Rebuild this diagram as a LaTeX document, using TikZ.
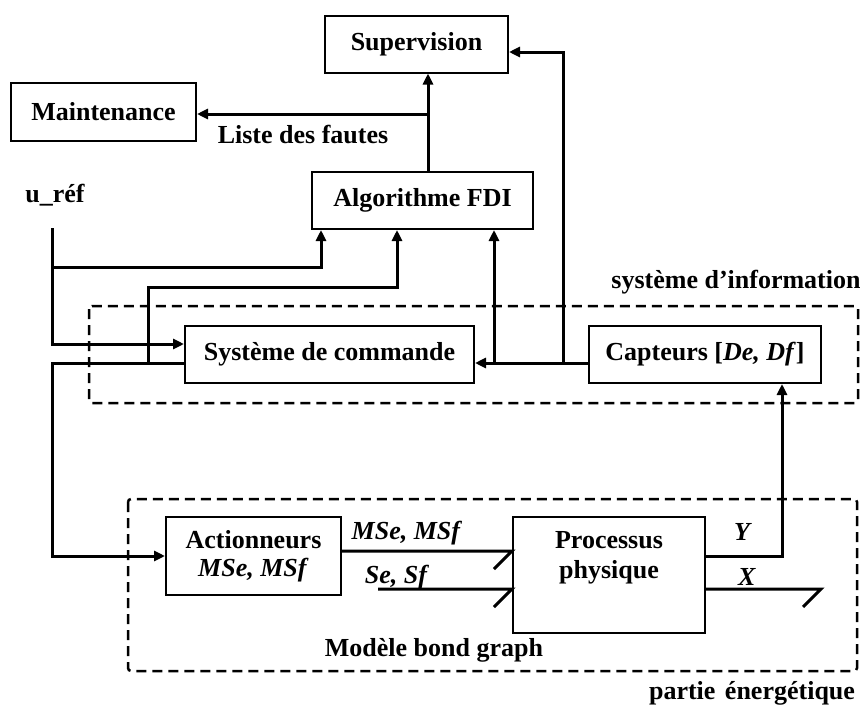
\documentclass[tikz,border=0pt]{standalone}
\usepackage{fontspec}
\setmainfont{Liberation Serif}
\usetikzlibrary{arrows.meta,calc}
\begin{document}
\begin{tikzpicture}[x=1pt,y=-1pt,
  every node/.style={font=\fontsize{26}{30}\selectfont\bfseries},
  blk/.style={draw,line width=2pt,inner sep=0pt,align=center},
  conn/.style={line width=3pt,line join=miter},
  arr/.style={conn,-{Triangle[length=11pt,width=10pt]}},
  dashbox/.style={line width=2.5pt,dash pattern=on 10pt off 6pt,rounded corners=3pt},
  lbl/.style={inner sep=0pt}]
\useasboundingbox (0,0) rectangle (860,707);
% blocks
\node[blk,minimum width=183pt,minimum height=57pt] (sup) at (416.5,44) {Supervision};
\node[blk,minimum width=185pt,minimum height=58pt] (maint) at (103.5,112) {Maintenance};
\node[blk,minimum width=221pt,minimum height=57pt] (algo) at (422.5,200.5) {Algorithme FDI};
\node[blk,minimum width=289pt,minimum height=57pt] (cmd) at (329.5,354.5) {Système de commande};
\node[blk,minimum width=232pt,minimum height=57pt] (capt) at (705,354.5) {Capteurs [\textit{De, Df}]};
\node[blk,minimum width=175pt,minimum height=78pt] (act) at (253.5,556) {Actionneurs\\[-2pt]\textit{MSe, MSf}};
\node[blk,minimum width=192pt,minimum height=116pt] (proc) at (609,575) {};
\node[lbl,align=center] (proctxt) at (609,558) {Processus\\physique};
% dashed regions
\draw[dashbox] (89,306) rectangle (858,403);
\draw[dashbox] (128,499) rectangle (857,671);
% labels
\node[lbl] (liste) at (303,135) {Liste des fautes};
\node[lbl] (uref) at (55,195) {u\_réf};
\node[lbl] (sinfo) at (736,282) {système d’information};
\node[lbl] (penerg) at (752,693) {partie\ \hspace{3pt}énergétique};
\node[lbl] (mbg) at (434,650) {Modèle bond graph};
\node[lbl] (lmse) at (407,533) {\textit{MSe, MSf}};
\node[lbl] (lse) at (397,577) {\textit{Se, Sf}};
\node[lbl] (ly) at (743,532) {\textit{Y}};
\node[lbl] (lx) at (747,577) {\textit{X}};
% junction coordinates
\coordinate (j1) at (428,114);
\coordinate (j2) at (563,363);
\coordinate (j3) at (494,363);
\coordinate (u0) at (52,228);
\coordinate (u1) at (52,267);
\coordinate (c1) at (148,363);
\coordinate (c2) at (148,287);
\coordinate (se) at (378,589);
% connectors top
\draw[arr] (j1 |- algo.north) -- (j1 |- sup.south);
\draw[arr] (j1) -- (j1 -| maint.east);
\draw[arr] (j2) |- ($(sup.east)+(0,8)$);
\draw[arr] (capt.west |- j2) -- (cmd.east |- j2);
\draw[arr] (j3) -- (j3 |- algo.south);
% u_ref
\draw[arr] (u0) |- ($(cmd.west)+(0,-10.5)$);
\draw[arr] (u1) -| ($(algo.south)+(-101.5,0)$);
% command output
\draw[arr] (c1) -- (c2) -| ($(algo.south)+(-25.5,0)$);
\draw[arr] (cmd.west |- c1) -- (u0 |- c1) |- (act.west);
% bonds
\draw[conn] ($(act.east)+(0,-5)$) -- ($(proc.west)+(0,-24)$) -- ++(-18,18);
\draw[conn] (se) -- (se -| proc.west) -- ++(-18,18);
\draw[arr] ($(proc.east)+(0,-19)$) -| ($(capt.south)+(77,0)$);
\draw[conn] ($(proc.east)+(0,14)$) -- ++(115,0) -- ++(-18,18);
\end{tikzpicture}
\end{document}
